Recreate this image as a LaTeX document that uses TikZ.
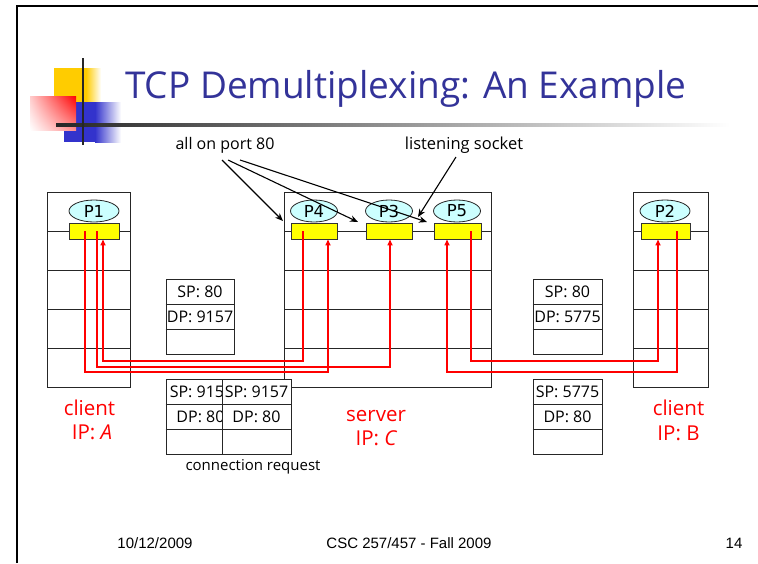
\documentclass[tikz,border=0pt]{standalone}
\usepackage{fontspec}
\setmainfont{Open Sans}
\newfontfamily\pfont{DejaVu Sans}
\newfontfamily\footfont{Liberation Sans}
\usetikzlibrary{arrows.meta,calc,shapes.geometric,shadings}
\definecolor{titleblue}{RGB}{51,51,153}
\definecolor{pcyan}{RGB}{204,255,255}
\definecolor{sockyellow}{RGB}{255,255,0}
\definecolor{decoyellow}{RGB}{255,204,0}
\definecolor{decoblue}{RGB}{51,51,204}
\begin{document}
\begin{tikzpicture}[x=1pt,y=-1pt,
  hostbox/.style={draw=black!85, line width=0.9pt, inner sep=0, outer sep=0},
  rowline/.style={draw=black!85, line width=0.9pt},
  proc/.style={ellipse, draw=black!85, line width=0.8pt, fill=pcyan, minimum width=49pt, minimum height=22pt, inner sep=0, font=\pfont\fontsize{16.5}{16.5}\selectfont},
  sock/.style={draw=black!80, line width=0.9pt, fill=sockyellow, minimum height=16pt, inner sep=0},
  pkt/.style={draw=black!85, line width=0.8pt, fill=white, minimum width=69pt, minimum height=75pt, inner sep=0},
  pkttxt/.style={font=\fontsize{16}{16}\selectfont, inner sep=0},
  rl/.style={draw=red, line width=1.7pt},
  rla/.style={rl, -{Triangle[length=6pt,width=5pt]}},
  blk/.style={line width=1.1pt, -{Stealth[length=8pt,width=6.5pt]}},
  redlbl/.style={text=red, font=\fontsize{20.5}{20.5}\selectfont, inner sep=0, anchor=base},
  foot/.style={font=\footfont\fontsize{15}{15}\selectfont, inner sep=0, anchor=base}
]
\useasboundingbox (0,0) rectangle (758,563);
\fill[white] (0,0) rectangle (758,563);
% slide frame
\draw[line width=2.2pt] (17,563) -- (17,6) -- (758,6);
% decoration
\fill[decoyellow] (54,68) rectangle (86,102);
\shade[left color=decoyellow, right color=white] (86,68) rectangle (101,102);
\fill[decoblue] (64,102) rectangle (95,142);
\shade[left color=decoblue, right color=white] (95,102) rectangle (121,142);
\shade[upper right=red, upper left=red!20, lower right=red!45, lower left=white] (30,96) rectangle (76,130);
\shade[left color=black!85, right color=white] (56,123.5) rectangle (730,126.5);
\draw[line width=2.5pt, black!85] (83,58) -- (83,145);
% title
\node[anchor=base west, inner sep=0, text=titleblue, font=\fontsize{37}{37}\selectfont] (title) at (125,98) {TCP Demultiplexing: An Example};

% hosts
\node[hostbox, minimum width=83pt, minimum height=195pt] (hA) at (88.5,289.5) {};
\node[hostbox, minimum width=207pt, minimum height=195pt] (hC) at (387.5,289.5) {};
\node[hostbox, minimum width=75pt, minimum height=195pt] (hB) at (670.5,289.5) {};
\foreach \yy in {231,270,309,348} {
  \draw[rowline] (hA.west |- 0,\yy) -- (hA.east |- 0,\yy);
  \draw[rowline] (hC.west |- 0,\yy) -- (hC.east |- 0,\yy);
  \draw[rowline] (hB.west |- 0,\yy) -- (hB.east |- 0,\yy);
}
% processes
\node[proc, minimum width=50pt] (p1) at (94,211) {P1};
\node[proc, minimum width=47pt] (p4) at (314,211) {P4};
\node[proc, minimum width=47pt] (p3) at (389,211) {P3};
\node[proc, minimum width=47pt] (p5) at (457,211) {P5};
\node[proc, minimum width=50pt] (p2) at (665,211) {P2};
% sockets
\node[sock, minimum width=50pt] (s1) at (94,231) {};
\node[sock, minimum width=46pt] (s4) at (314,231) {};
\node[sock, minimum width=46pt] (s3) at (389,231) {};
\node[sock, minimum width=47pt] (s5) at (457.5,231) {};
\node[sock, minimum width=49pt] (s2) at (665.5,231) {};

% packets
\node[pkt, minimum width=68pt] (k1) at (200,316.5) {};
\draw[rowline, line width=0.8pt] (k1.west |- 0,304) -- (k1.east |- 0,304);
\draw[rowline, line width=0.8pt] (k1.west |- 0,329) -- (k1.east |- 0,329);
\node[pkttxt] (k1a) at (200,291.5) {SP: 80};
\node[pkttxt] (k1b) at (200,316.5) {DP: 9157};

\node[pkt] (k2) at (567.5,316.5) {};
\draw[rowline, line width=0.8pt] (k2.west |- 0,304) -- (k2.east |- 0,304);
\draw[rowline, line width=0.8pt] (k2.west |- 0,329) -- (k2.east |- 0,329);
\node[pkttxt] (k2a) at (567.5,291.5) {SP: 80};
\node[pkttxt] (k2b) at (567.5,316.5) {DP: 5775};

\node[pkt] (k3) at (200.5,416.5) {};
\draw[rowline, line width=0.8pt] (k3.west |- 0,404) -- (k3.east |- 0,404);
\draw[rowline, line width=0.8pt] (k3.west |- 0,429) -- (k3.east |- 0,429);
\node[pkttxt] (k3a) at (201.5,391.5) {SP: 9157};
\node[pkttxt] (k3b) at (200.5,416.5) {DP: 80};

\node[pkt] (k4) at (256.5,416.5) {};
\draw[rowline, line width=0.8pt] (k4.west |- 0,404) -- (k4.east |- 0,404);
\draw[rowline, line width=0.8pt] (k4.west |- 0,429) -- (k4.east |- 0,429);
\node[pkttxt] (k4a) at (256.5,391.5) {SP: 9157};
\node[pkttxt] (k4b) at (256.5,416.5) {DP: 80};

\node[pkt] (k5) at (567.5,416.5) {};
\draw[rowline, line width=0.8pt] (k5.west |- 0,404) -- (k5.east |- 0,404);
\draw[rowline, line width=0.8pt] (k5.west |- 0,429) -- (k5.east |- 0,429);
\node[pkttxt] (k5a) at (567.5,391.5) {SP: 5775};
\node[pkttxt] (k5b) at (567.5,416.5) {DP: 80};

\node[inner sep=0, font=\fontsize{15}{15}\selectfont] (creq) at (253,467) {connection request};

% red connections
\draw[rla] ([xshift=-9pt]s1.center) -- ++(0,141) -| ([xshift=14pt]s4.south);
\draw[rla] ([xshift=3pt]s1.center) -- ++(0,136) -| ([xshift=1pt]s3.south);
\draw[rla] ([xshift=-11pt]s4.center) -- ++(0,130) -| ([xshift=9pt]s1.south);
\draw[rla] ([xshift=13.5pt]s5.center) -- ++(0,130) -| ([xshift=-7.5pt]s2.south);
\draw[rla] ([xshift=11.5pt]s2.center) -- ++(0,141) -| ([xshift=-10.5pt]s5.south);

% annotations
\node[inner sep=0, font=\fontsize{16}{16}\selectfont] (port80) at (225,145) {all on port 80};
\node[inner sep=0, font=\fontsize{16.5}{16.5}\selectfont] (listen) at (464,145) {listening socket};
\coordinate (ap1) at (222,160);
\coordinate (ap2) at (228,160);
\coordinate (ap3) at (240,160);
\coordinate (ae1) at (283,221);
\coordinate (ae2) at (358,222);
\coordinate (ae3) at (427,222);
\coordinate (ls1) at (456,157);
\coordinate (le1) at (418,217);
\draw[blk] (ap1) -- (ae1);
\draw[blk] (ap2) -- (ae2);
\draw[blk] (ap3) -- (ae3);
\draw[blk] (ls1) -- (le1);

% host labels
\node[redlbl] (cA1) at (89.5,415) {client};
\node[redlbl] (cA2) at (92,439) {IP: \textit{A}};
\node[redlbl] (sC1) at (376,421) {server};
\node[redlbl] (sC2) at (376.5,445) {IP: \textit{C}};
\node[redlbl] (cB1) at (678.5,415) {client};
\node[redlbl] (cB2) at (678.5,440) {IP: B};

% footer
\node[foot] (fdate) at (155,548) {10/12/2009};
\node[foot] (fcourse) at (409,548) {CSC 257/457 - Fall 2009};
\node[foot] (fpage) at (734,548) {14};
\end{tikzpicture}
\end{document}
